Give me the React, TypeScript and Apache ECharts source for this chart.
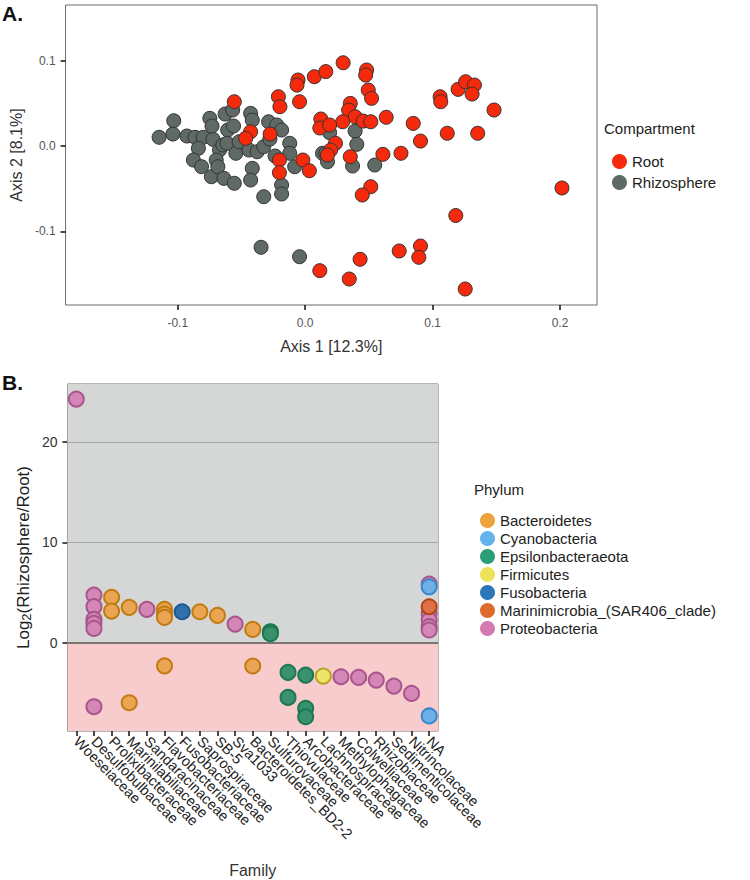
import React, { useEffect, useRef } from "react";
import * as echarts from "echarts";

// ---------- Panel A: PCoA ----------
const rootPoints: number[][] = [
  [-0.0556, 0.0518], [-0.0428, 0.0167], [-0.0467, 0.009], [-0.0275, 0.014], [-0.021, 0.0577],
  [-0.0198, 0.046], [-0.0056, 0.0772], [-0.0064, 0.0713], [-0.0044, 0.0518], [0.0072, 0.0811],
  [0.0162, 0.0871], [-0.0202, -0.0164], [-0.0202, -0.0312], [-0.0018, -0.0164], [0.0033, -0.0289],
  [0.0123, 0.0316], [0.0115, 0.0211], [0.0298, 0.0974], [0.0482, 0.0889], [0.0475, 0.083],
  [0.0495, 0.0655], [0.0521, 0.0558], [0.0354, 0.0499], [0.0341, 0.0421], [0.0392, 0.0343],
  [0.0456, 0.0292], [0.0515, 0.0284], [0.0636, 0.0336], [0.0848, 0.0265], [0.0905, 0.0058],
  [0.0752, -0.0085], [0.061, -0.0097], [0.0295, 0.0284], [0.0192, 0.0246], [0.0238, 0.0032],
  [0.02, -0.0047], [0.0175, -0.0105], [0.0354, -0.0125], [0.1059, 0.0577], [0.1064, 0.0518],
  [0.12, 0.0663], [0.1259, 0.0752], [0.1328, 0.0713], [0.131, 0.0608], [0.1482, 0.0421],
  [0.1115, 0.0149], [0.1354, 0.0149], [0.0515, -0.0476], [0.0448, -0.0573], [0.2015, -0.0491],
  [0.1182, -0.0813], [0.0115, -0.1458], [0.0346, -0.1556], [0.0431, -0.1325], [0.0738, -0.1228],
  [0.0905, -0.117], [0.0892, -0.1302], [0.1256, -0.1673],
];

const rhizospherePoints: number[][] = [
  [-0.1146, 0.0102], [-0.1031, 0.0296], [-0.1038, 0.014], [-0.0928, 0.0117], [-0.0864, 0.0102],
  [-0.08, 0.0102], [-0.0723, 0.0078], [-0.0838, -0.0027], [-0.0877, -0.0164], [-0.0813, -0.0242],
  [-0.0736, -0.0359], [-0.0748, 0.0324], [-0.0731, 0.0234], [-0.0628, 0.0374], [-0.0569, 0.0421],
  [-0.0608, 0.0187], [-0.0562, 0.0234], [-0.0672, -0.0047], [-0.0646, 0.0012], [-0.0613, 0.0032],
  [-0.0698, -0.0164], [-0.0685, -0.0242], [-0.0638, -0.0378], [-0.0556, -0.0436], [-0.0544, -0.0085],
  [-0.0518, 0.005], [-0.0428, 0.0382], [-0.0415, 0.0304], [-0.0441, -0.0047], [-0.0377, -0.0067],
  [-0.0325, -0.0008], [-0.0287, 0.0284], [-0.0223, 0.0246], [-0.0185, 0.0187], [-0.0415, -0.0261],
  [-0.0428, -0.0398], [-0.0325, -0.0593], [-0.0236, -0.0117], [-0.0121, 0.0032], [-0.0121, -0.0085],
  [-0.0082, -0.0242], [-0.0185, -0.0456], [-0.0185, -0.0561], [0.0136, -0.0085], [-0.0277, 0.0082],
  [0.0192, 0.0156], [0.0392, 0.0175], [0.0405, 0.002], [0.0162, -0.0085], [0.0175, -0.0184],
  [0.0372, -0.0234], [0.0546, -0.0222], [-0.0346, -0.1185], [-0.0044, -0.1295],
];

const axisATicksX = [-0.1, 0, 0.1, 0.2];
const axisATicksY = [-0.1, 0, 0.1];

// ---------- Panel B: log2 fold change ----------
const families = [
  "Woeseiaceae", "Desulfobulbaceae", "Prolixibacteraceae", "Marinilabiliaceae", "Sandaracinaceae",
  "Flavobacteriaceae", "Fusobacteriaceae", "Saprospiraceae", "SB-5", "Sva1033",
  "Bacteroidetes_BD2-2", "Sulfurovaceae", "Thiovulaceae", "Arcobacteraceae", "Lachnospiraceae",
  "Methylophagaceae", "Colwelliaceae", "Rhizobiaceae", "Sedimenticolaceae", "Nitrincolaceae", "NA",
];

const bacteroidetes: [string, number][] = [
  ["Prolixibacteraceae", 4.53], ["Prolixibacteraceae", 3.16], ["Marinilabiliaceae", 3.53],
  ["Marinilabiliaceae", -5.98], ["Flavobacteriaceae", 3.33], ["Flavobacteriaceae", 2.85],
  ["Flavobacteriaceae", 2.53], ["Flavobacteriaceae", -2.3], ["Saprospiraceae", 3.09],
  ["SB-5", 2.73], ["Bacteroidetes_BD2-2", 1.33], ["Bacteroidetes_BD2-2", -2.32],
];
const cyanobacteria: [string, number][] = [["NA", 5.58], ["NA", -7.3]];
const epsilonbacteraeota: [string, number][] = [
  ["Sulfurovaceae", 1.1], ["Sulfurovaceae", 0.9], ["Thiovulaceae", -2.95], ["Thiovulaceae", -5.45],
  ["Arcobacteraceae", -3.22], ["Arcobacteraceae", -6.54], ["Arcobacteraceae", -7.38],
];
const firmicutes: [string, number][] = [["Lachnospiraceae", -3.32]];
const fusobacteria: [string, number][] = [["Fusobacteriaceae", 3.09]];
const marinimicrobia: [string, number][] = [["NA", 3.59]];
const proteobacteria: [string, number][] = [
  ["Woeseiaceae", 24.3], ["Desulfobulbaceae", 4.75], ["Desulfobulbaceae", 3.6],
  ["Desulfobulbaceae", 2.33], ["Desulfobulbaceae", 1.93], ["Desulfobulbaceae", 1.43],
  ["Desulfobulbaceae", -6.38], ["Sandaracinaceae", 3.33], ["Sva1033", 1.86],
  ["Methylophagaceae", -3.39], ["Colwelliaceae", -3.45], ["Rhizobiaceae", -3.72],
  ["Sedimenticolaceae", -4.32], ["Nitrincolaceae", -5.05], ["NA", 5.85], ["NA", 2.93],
  ["NA", 2.26], ["NA", 1.6], ["NA", 1.27],
];
const axisBTicksY = [0, 10, 20];
const gridLinesB = [10, 20];

const FONT = "'Liberation Sans', Arial, Helvetica, sans-serif";

const phyla = [
  { name: "Bacteroidetes", data: bacteroidetes, legend: "#eda23c", fill: "#e9a552", border: "#c27a12", z: 3 },
  { name: "Cyanobacteria", data: cyanobacteria, legend: "#63b4ea", fill: "#6cb0e6", border: "#3b87cc", z: 4 },
  { name: "Epsilonbacteraeota", data: epsilonbacteraeota, legend: "#2b9e76", fill: "#3a9170", border: "#1b7850", z: 3 },
  { name: "Firmicutes", data: firmicutes, legend: "#efe25b", fill: "#efe36a", border: "#b5a52a", z: 3 },
  { name: "Fusobacteria", data: fusobacteria, legend: "#2b77b8", fill: "#2f70ad", border: "#1d5892", z: 3 },
  { name: "Marinimicrobia_(SAR406_clade)", data: marinimicrobia, legend: "#de6a2e", fill: "#dd7048", border: "#b0440f", z: 3 },
  { name: "Proteobacteria", data: proteobacteria, legend: "#d37bb1", fill: "#d487b7", border: "#a8558b", z: 2 },
];

export default function App() {
  const ref = useRef<HTMLDivElement>(null);

  useEffect(() => {
    if (!ref.current) return;
    const chart = echarts.init(ref.current, null, { renderer: "svg" });

    const tickStyle = { color: "#111", width: 1.5 };

    const option: any = {
      animation: false,
      textStyle: { fontFamily: FONT },
      grid: [
        { left: 54, top: 5, width: 543, height: 300, show: true, borderColor: "#6a6a6a", borderWidth: 1, backgroundColor: "transparent" },
        { left: 54, top: 384, width: 384, height: 347, show: true, borderColor: "#6a6a6a", borderWidth: 1, backgroundColor: "transparent" },
      ],
      xAxis: [
        {
          gridIndex: 0, type: "value", min: -0.188, max: 0.229,
          axisLine: { show: false, onZero: false },
          axisTick: { show: true, customValues: axisATicksX, length: 5, lineStyle: tickStyle },
          axisLabel: { customValues: axisATicksX, formatter: (v: number) => v.toFixed(1), color: "#555", fontSize: 12, margin: 12, fontFamily: FONT },
          splitLine: { show: false },
          name: "Axis 1 [12.3%]", nameLocation: "middle", nameGap: 33,
          nameTextStyle: { fontSize: 16, color: "#333", fontFamily: FONT },
        },
        {
          gridIndex: 1, type: "category", data: families,
          axisLine: { show: false, onZero: false },
          axisTick: { show: true, alignWithLabel: true, interval: 0, length: 5, lineStyle: tickStyle },
          axisLabel: { rotate: -45, interval: 0, fontSize: 14.5, color: "#222", margin: 8, fontFamily: FONT },
          splitLine: { show: false },
          name: "Family", nameLocation: "middle", nameGap: 131,
          nameTextStyle: { fontSize: 16, color: "#333", fontFamily: FONT },
        },
      ],
      yAxis: [
        {
          gridIndex: 0, type: "value", min: -0.186, max: 0.165,
          axisLine: { show: false, onZero: false },
          axisTick: { show: true, customValues: axisATicksY, length: 5, lineStyle: tickStyle },
          axisLabel: { customValues: axisATicksY, formatter: (v: number) => v.toFixed(1), color: "#555", fontSize: 12, margin: 10, fontFamily: FONT },
          splitLine: { show: false },
          name: "Axis 2 [8.1%]", nameLocation: "middle", nameGap: 39,
          nameTextStyle: { fontSize: 16, color: "#333", fontFamily: FONT },
        },
        {
          gridIndex: 1, type: "value", min: -8.8, max: 25.8,
          axisLine: { show: false, onZero: false },
          axisTick: { show: true, customValues: axisBTicksY, length: 5, lineStyle: tickStyle },
          axisLabel: { customValues: axisBTicksY, color: "#333", fontSize: 14, margin: 10, fontFamily: FONT },
          splitLine: { show: false },
          name: "{a|Log}{s|2}{a|(Rhizosphere/Root)}", nameLocation: "middle", nameGap: 34,
          nameTextStyle: {
            fontFamily: FONT,
            rich: {
              a: { fontSize: 17, color: "#222", lineHeight: 18, verticalAlign: "top", fontFamily: FONT },
              s: { fontSize: 13, color: "#222", lineHeight: 13, verticalAlign: "bottom", padding: [10, 0, 0, 0], fontFamily: FONT },
            },
          },
        },
      ],
      legend: [
        {
          data: [
            { name: "Root", itemStyle: { color: "#f52a0c", borderWidth: 0 } },
            { name: "Rhizosphere", itemStyle: { color: "#5f6a66", borderWidth: 0 } },
          ],
          orient: "vertical", left: 607, top: 149, itemWidth: 15, itemHeight: 15, itemGap: 6,
          icon: "circle", textStyle: { fontSize: 15, color: "#222", fontFamily: FONT },
          selectedMode: false,
        },
        {
          data: phyla.map((p) => ({ name: p.name, itemStyle: { color: p.legend, borderWidth: 0 } })),
          orient: "vertical", left: 475, top: 508, itemWidth: 15, itemHeight: 15, itemGap: 3,
          icon: "circle", textStyle: { fontSize: 15, color: "#222", fontFamily: FONT },
          selectedMode: false,
        },
      ],
      graphic: [
        { type: "text", left: 2, top: 3, style: { text: "A.", font: `bold 21px ${FONT}`, fill: "#111" } },
        { type: "text", left: 2, top: 372, style: { text: "B.", font: `bold 21px ${FONT}`, fill: "#111" } },
        { type: "text", left: 604, top: 121, style: { text: "Compartment", font: `15px ${FONT}`, fill: "#222" } },
        { type: "text", left: 474, top: 482, style: { text: "Phylum", font: `15px ${FONT}`, fill: "#222" } },
      ],
      series: [
        {
          name: "Rhizosphere", type: "scatter", xAxisIndex: 0, yAxisIndex: 0, data: rhizospherePoints,
          symbolSize: 14, z: 2,
          itemStyle: { color: "#5f6a66", borderColor: "#333", borderWidth: 1, opacity: 1 },
        },
        {
          name: "Root", type: "scatter", xAxisIndex: 0, yAxisIndex: 0, data: rootPoints,
          symbolSize: 14, z: 3,
          itemStyle: { color: "#f52a0c", borderColor: "#333", borderWidth: 1, opacity: 1 },
        },
        {
          name: "bg", type: "scatter", xAxisIndex: 1, yAxisIndex: 1, data: [], silent: true, z: 1,
          markArea: {
            silent: true,
            data: [
              [{ yAxis: 0, itemStyle: { color: "#d5d7d7" } }, { yAxis: 25.8 }],
              [{ yAxis: -8.8, itemStyle: { color: "#f8cccc" } }, { yAxis: 0 }],
            ],
          },
          markLine: {
            silent: true, symbol: "none", label: { show: false },
            data: [
              ...gridLinesB.map((v) => ({ yAxis: v, lineStyle: { color: "#a4a6a6", width: 1, type: "solid" } })),
              { yAxis: 0, lineStyle: { color: "#555", width: 1.5, type: "solid" } },
            ],
          },
        },
        ...phyla.map((p) => ({
          name: p.name, type: "scatter", xAxisIndex: 1, yAxisIndex: 1, data: p.data,
          symbolSize: 15, z: p.z,
          itemStyle: { color: p.fill, borderColor: p.border, borderWidth: 2, opacity: 1 },
        })),
      ],
    };

    chart.setOption(option);
    return () => chart.dispose();
  }, []);

  return (
    <div
      ref={ref}
      style={{ position: "absolute", left: 0, top: 0, width: 750, height: 880, background: "#fff" }}
    />
  );
}
